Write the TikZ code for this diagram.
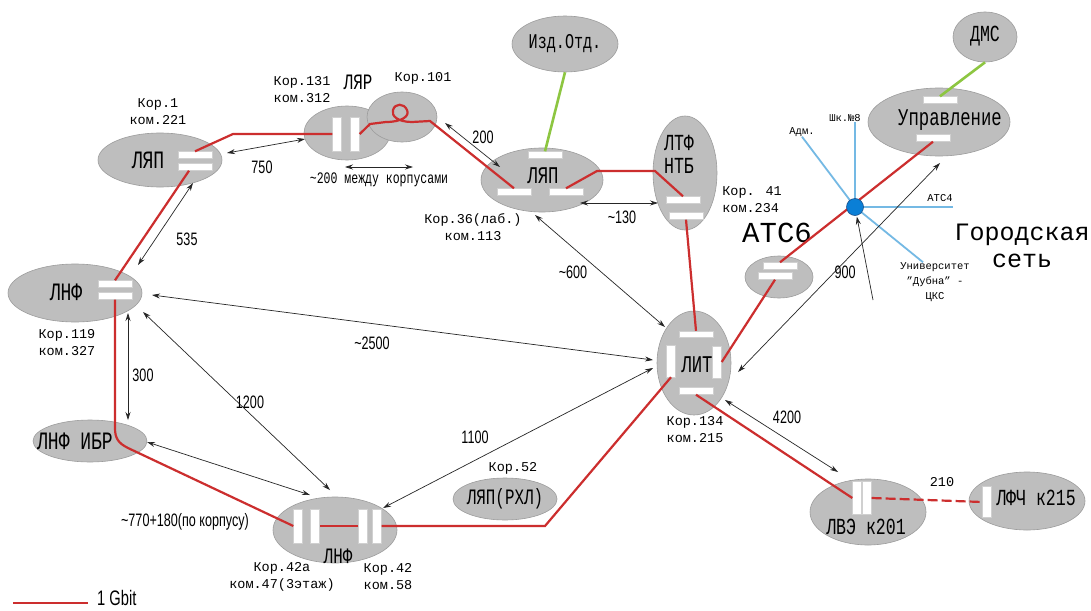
\documentclass[tikz,border=0pt]{standalone}
\usepackage{fontspec}
\setmainfont{Liberation Mono}
\newfontfamily\narrowmono[FakeStretch=0.72]{Liberation Mono}
\newfontfamily\narrowsans[FakeStretch=0.7]{Liberation Sans}
\usepackage{tikz}
\usetikzlibrary{shapes.geometric,arrows.meta,calc}
\definecolor{roomfill}{HTML}{BEBEBE}
\definecolor{roomedge}{HTML}{9C9C9C}
\definecolor{portedge}{HTML}{D0D0D0}
\definecolor{gbitred}{HTML}{CC2E2E}
\definecolor{sidegreen}{HTML}{8DC641}
\definecolor{cityblue}{HTML}{74B9E4}
\definecolor{hubblue}{HTML}{0A7FD6}
\definecolor{hubedge}{HTML}{1A4F8A}
\definecolor{distline}{HTML}{262626}
\newcommand{\namefont}[1][24]{\narrowmono\fontsize{#1}{#1}\selectfont}
\newcommand{\placefont}{\fontsize{13.5}{17}\selectfont}
\newcommand{\lenfont}{\narrowsans\fontsize{18}{20}\selectfont}
\newcommand{\hubfont}{\fontsize{10.5}{15}\selectfont}

\begin{document}
\begin{tikzpicture}[x=1pt,y=-1pt,
  room/.style={ellipse,draw=roomedge,fill=roomfill,line width=0.6pt,inner sep=0pt},
  hport/.style={rectangle,fill=white,draw=portedge,line width=0.4pt,minimum width=34pt,minimum height=7pt,inner sep=0pt},
  vport/.style={rectangle,fill=white,draw=portedge,line width=0.4pt,minimum width=9pt,minimum height=34pt,inner sep=0pt},
  roomname/.style={font=\namefont,align=center,inner sep=0pt},
  note/.style={font=\placefont,align=center,inner sep=0pt},
  distlabel/.style={font=\lenfont,inner sep=0pt},
  gbit/.style={draw=gbitred,line width=2.2pt},
  dist/.style={>={Stealth[length=8pt,width=5pt]},<->,draw=distline,line width=0.7pt},
  citylink/.style={draw=cityblue,line width=1.8pt},
  greenlink/.style={draw=sidegreen,line width=2.6pt}]
\fill[white] (0,0) rectangle (1091,610);
\useasboundingbox (0,0) rectangle (1091,610);

% rooms
\node[room,minimum width=124pt,minimum height=54pt] (lyap1) at (160,160) {};
\node[room,minimum width=134pt,minimum height=58pt] (lnf1) at (75,293) {};
\node[room,minimum width=114pt,minimum height=42pt] (lnfibr) at (90,441) {};
\node[room,minimum width=124pt,minimum height=66pt] (lnf42) at (335,530) {};
\node[room,minimum width=86pt,minimum height=54pt] (lyar) at (347,133) {};
\node[room,minimum width=70pt,minimum height=50pt] (k101) at (402,117) {};
\node[room,minimum width=122pt,minimum height=64pt] (lyap36) at (542,180) {};
\node[room,minimum width=106pt,minimum height=56pt] (izd) at (565,44) {};
\node[room,minimum width=64pt,minimum height=114pt] (ltf) at (685,173) {};
\node[room,minimum width=68pt,minimum height=42pt] (ats6) at (779,277) {};
\node[room,minimum width=142pt,minimum height=68pt] (upr) at (939,122) {};
\node[room,minimum width=64pt,minimum height=50pt] (dms) at (985,37) {};
\node[room,minimum width=74pt,minimum height=104pt] (lit) at (694,363) {};
\node[room,minimum width=104pt,minimum height=42pt] (rhl) at (505,499) {};
\node[room,minimum width=116pt,minimum height=66pt] (lve) at (868,512) {};
\node[room,minimum width=116pt,minimum height=58pt] (lfch) at (1027,501) {};

% room names
\node[roomname,font={\namefont[25]}] (lyap1name) at (148,160) {ЛЯП};
\node[roomname,font={\namefont[25]}] (lnf1name) at (66,292) {ЛНФ};
\node[roomname,font={\namefont[25]}] (lnfibrname) at (75,441) {ЛНФ ИБР};
\node[roomname,font={\namefont[22]}] (lnf42name) at (338,556) {ЛНФ};
\node[roomname,font={\namefont[22]}] (lyarname) at (358,82) {ЛЯР};
\node[roomname] (lyap36name) at (543,176) {ЛЯП};
\node[roomname,font={\namefont[21]}] (izdname) at (565,44) {Изд.Отд.};
\node[roomname,font={\namefont[23]}] (ltfname) at (679,154) {ЛТФ\\НТБ};
\node[roomname] (uprname) at (950,120) {Управление};
\node[roomname,font={\namefont[23]}] (dmsname) at (985,36) {ДМС};
\node[roomname] (litname) at (697,365) {ЛИТ};
\node[roomname,font={\namefont[22]}] (rhlname) at (505,499) {ЛЯП(РХЛ)};
\node[roomname,font={\namefont[23]}] (lvename) at (866,527) {ЛВЭ к201};
\node[roomname,font={\namefont[23]}] (lfchname) at (1036,498) {ЛФЧ к215};

% ports
\node[hport] (lyap1pa) at (195,155) {};
\node[hport] (lyap1pb) at (195,167) {};
\node[hport] (lnf1pa) at (115,284) {};
\node[hport] (lnf1pb) at (115,296) {};
\node[vport] (lyarpa) at (337,134) {};
\node[vport] (lyarpb) at (355,134) {};
\node[hport] (lyap36t) at (545,155) {};
\node[hport] (lyap36l) at (514,192) {};
\node[hport] (lyap36r) at (566,192) {};
\node[hport] (ltfpa) at (683,200) {};
\node[hport] (ltfpb) at (686,216) {};
\node[hport] (ats6pa) at (780,266) {};
\node[hport] (ats6pb) at (775,276) {};
\node[hport] (uprt) at (940,100) {};
\node[hport] (uprb) at (933,138) {};
\node[hport,minimum height=6pt] (litt) at (696,334) {};
\node[vport,minimum height=32pt] (litl) at (671,361) {};
\node[vport,minimum height=32pt] (litr) at (717,362) {};
\node[hport] (litb) at (696,391) {};
\node[vport] (lnf42a) at (298,526) {};
\node[vport] (lnf42b) at (315,526) {};
\node[vport] (lnf42c) at (363,526) {};
\node[vport] (lnf42d) at (377,526) {};
\node[vport,minimum height=33pt] (lvea) at (857,498) {};
\node[vport,minimum height=33pt] (lveb) at (867,498) {};
\node[vport,minimum height=31pt] (lfcha) at (987,502) {};

% building notes
\node[note] (lyap1note) at (158,112) {Кор.1\\ком.221};
\node[note] (lnf1note) at (67,343) {Кор.119\\ком.327};
\node[note] (lyarnote) at (302,90) {Кор.131\\ком.312};
\node[note] (k101note) at (423,78) {Кор.101};
\node[note] (lyap36note) at (473,227) {Кор.36(лаб.)\\ком.113};
\node[note,align=left] (ltfnote) at (752,200) {Кор. 41\\ком.234};
\node[note] (litnote) at (695,430) {Кор.134\\ком.215};
\node[note] (rhlnote) at (513,468) {Кор.52};
\node[note] (lnf42anote) at (282,577) {Кор.42а\\ком.47(3этаж)};
\node[note] (lnf42dnote) at (388,577) {Кор.42\\ком.58};
\node[note,font={\narrowmono\fontsize{16}{18}\selectfont}] (betweennote) at (379,180) {\textasciitilde200 между корпусами};
\node[note,font={\fontsize{29}{31}\selectfont}] (ats6note) at (777,233) {АТС6};
\node[note,font={\fontsize{25}{27}\selectfont}] (citynote) at (1022,246) {Городская\\сеть};

% 1 Gbit links
\draw[gbit] (lyap1pa.north) -- (233,134) -- (lyarpa.west);
\draw[gbit] (lyarpb.east) -- (370,124) -- (386,122) .. controls (402,122) and (410,116) .. (407,110)
  .. controls (404,103) and (395,103) .. (393,110) .. controls (391,116) and (398,122) .. (412,122)
  -- (430,121) -- (lyap36l.north);
\draw[gbit] (lyap36r.north) -- (597,171) -- (655,171) -- (ltfpa.north);
\draw[gbit] (ltfpb.south) -- (litt.north);
\draw[gbit] (litr.east) -- (ats6pb.south);
\draw[gbit] (ats6pa.north) -- (uprb.south);
\draw[gbit] (litb.south) -- (lvea.west);
\draw[gbit] (litl.south) -- (545,526) -- (lnf42d.east);
\draw[gbit] (lnf42c.west) -- (lnf42b.east);
\draw[gbit] (lnf42a.west) -- (128,448) .. controls (118,443) and (115,438) .. (115,428) -- (lnf1pb.south);
\draw[gbit] (lnf1pa.north) -- ([xshift=-6pt]lyap1pb.south);
\draw[gbit,dash pattern=on 10pt off 4pt] (lveb.east) -- (lfcha.west);

% other links
\draw[greenlink] (izd.south) -- (lyap36t.north);
\draw[greenlink] (dms.south) -- (uprt.north);

\node[note,font=\hubfont] (adm) at (802,132) {Адм.};
\node[note,font=\hubfont] (shk) at (845,118) {Шк.№8};
\node[note,font=\hubfont] (ats4) at (940,198) {АТС4};
\node[note,font=\hubfont] (univ) at (935,282) {Университет\\"Дубна" -\\ЦКС};
\coordinate (hubpt) at (855,207);
\draw[citylink] (hubpt) -- (adm.south);
\draw[citylink] (hubpt) -- (hubpt |- shk.south);
\draw[citylink] (hubpt) -- (hubpt -| ats4.east);
\draw[citylink] (hubpt) -- ([xshift=-12pt]univ.north);
\node[circle,fill=hubblue,draw=hubedge,line width=0.6pt,minimum size=17pt,inner sep=0pt] (hub) at (hubpt) {};

% distances
\draw[dist] ([shift={(67,-7)}]lyap1.center) -- ([shift={(-42,6)}]lyar.center);
\draw[dist] ([shift={(63,-28)}]lnf1.center) -- ([shift={(33,23)}]lyap1.center);
\draw[dist] ([shift={(-2,34)}]lyar.center) -- ([shift={(11,50)}]k101.center);
\draw[dist] ([shift={(43,6)}]k101.center) -- ([shift={(-42,-13)}]lyap36.center);
\draw[dist] ([shift={(38,23)}]lyap36.center) -- ([shift={(-27,30)}]ltf.center);
\draw[dist] ([shift={(-7,35)}]lyap36.center) -- ([shift={(-29,-36)}]lit.center);
\draw[dist] ([shift={(77,2)}]lnf1.center) -- ([shift={(-41,-3)}]lit.center);
\draw[dist] ([shift={(68,19)}]lnf1.center) -- ([shift={(-5,-40)}]lnf42.center);
\draw[dist] ([shift={(57,1)}]lnfibr.center) -- ([shift={(-25,-35)}]lnf42.center);
\draw[dist] ([shift={(48,-22)}]lnf42.center) -- ([shift={(-41,5)}]lit.center);
\draw[dist] ([shift={(53,20)}]lnf1.center) -- ([shift={(38,-21)}]lnfibr.center);
\draw[dist] ([shift={(44,9)}]lit.center) -- ([shift={(1,41)}]upr.center);
\draw[dist] ([shift={(31,37)}]lit.center) -- ([shift={(-30,-40)}]lve.center);
\coordinate (cityend) at (873,300);
\draw[dist,->,shorten >=1pt] (cityend) -- (hub);

\node[distlabel] (d750) at (262,167) {750};
\node[distlabel] (d535) at (187,239) {535};
\node[distlabel] (d200) at (483,137) {200};
\node[distlabel] (d130) at (622,217) {\textasciitilde130};
\node[distlabel] (d600) at (573,272) {\textasciitilde600};
\node[distlabel] (d2500) at (372,343) {\textasciitilde2500};
\node[distlabel] (d300) at (143,375) {300};
\node[distlabel] (d1200) at (250,402) {1200};
\node[distlabel] (d1100) at (475,437) {1100};
\node[distlabel] (d900) at (845,272) {900};
\node[distlabel] (d4200) at (787,417) {4200};
\node[note] (d210) at (942,482) {210};
\node[distlabel] (d770) at (185,522) {\textasciitilde770+180(по корпусу)};

% legend
\coordinate (gbitA) at (13,603);
\coordinate (gbitB) at (88,603);
\draw[gbit,line width=1.8pt] (gbitA) -- (gbitB);
\node[distlabel,font={\narrowsans\fontsize{21}{23}\selectfont},anchor=west] (gbitkey) at (97,598) {1 Gbit};
\end{tikzpicture}
\end{document}
